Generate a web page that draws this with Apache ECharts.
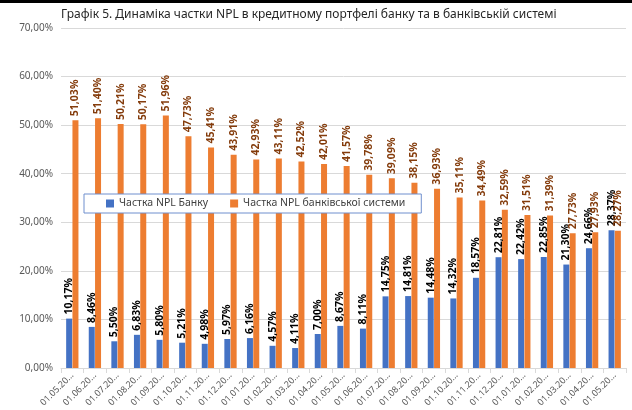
<!DOCTYPE html>
<html>
<head>
<meta charset="utf-8">
<script src="https://cdn.jsdelivr.net/npm/echarts@6/dist/echarts.min.js"></script>
<style>
  html, body { margin: 0; padding: 0; background: #fff; }
  #chart { width: 632px; height: 410px; }
  .topline { position: absolute; left: 0; top: 0; width: 632px; height: 3px; background: #000; z-index: 5; }
</style>
</head>
<body>
<div class="topline"></div>
<div id="chart"></div>
<script>
const dates = [
  '01.05.20…', '01.06.20…', '01.07.20…', '01.08.20…', '01.09.20…',
  '01.10.20…', '01.11.20…', '01.12.20…', '01.01.20…', '01.02.20…',
  '01.03.20…', '01.04.20…', '01.05.20…', '01.06.20…', '01.07.20…',
  '01.08.20…', '01.09.20…', '01.10.20…', '01.11.20…', '01.12.20…',
  '01.01.20…', '01.02.20…', '01.03.20…', '01.04.20…', '01.05.20…'
]
const bankNpl = [
  10.17, 8.46, 5.50, 6.83, 5.80, 5.21, 4.98, 5.97, 6.16, 4.57,
  4.11, 7.00, 8.67, 8.11, 14.75, 14.81, 14.48, 14.32, 18.57, 22.81,
  22.42, 22.85, 21.30, 24.66, 28.37
]
const systemNpl = [
  51.03, 51.40, 50.21, 50.17, 51.96, 47.73, 45.41, 43.91, 42.93, 43.11,
  42.52, 42.01, 41.57, 39.78, 39.09, 38.15, 36.93, 35.11, 34.49, 32.59,
  31.51, 31.39, 27.73, 27.93, 28.27
]

const blue = '#4472c4'
const orange = '#ed7d31'
const font = 'Noto Sans'

function pct(v) { return v.toFixed(2).replace('.', ',') + '%' }

const chart = echarts.init(document.getElementById('chart'))

chart.setOption({
  animation: false,
  textStyle: { fontFamily: font },
  title: {
    text: 'Графік 5. Динаміка частки NPL в кредитному портфелі банку та в банківській системі',
    left: 61,
    top: 9,
    padding: 0,
    textStyle: { fontFamily: font, fontSize: 12, fontWeight: 'normal', color: '#262626' },
  },
  legend: {
    data: ['Частка NPL Банку', 'Частка NPL банківської системи'],
    left: 84,
    top: 194,
    padding: [4, 16, 4, 22],
    itemGap: 22,
    itemWidth: 8,
    itemHeight: 8,
    icon: 'rect',
    backgroundColor: '#fff',
    borderColor: '#6f8fce',
    borderWidth: 1,
    textStyle: { fontFamily: font, fontSize: 10.5, color: '#404040' },
  },
  grid: { left: 61, right: 6, top: 28, bottom: 42 },
  xAxis: {
    type: 'category',
    data: dates,
    axisLine: { lineStyle: { color: '#d9d9d9' } },
    axisTick: { show: true, length: 5, lineStyle: { color: '#d9d9d9' } },
    axisLabel: { rotate: 45, fontSize: 9, color: '#595959', margin: 6 },
  },
  yAxis: {
    type: 'value',
    min: 0,
    max: 70,
    interval: 10,
    axisLine: { show: false },
    axisTick: { show: false },
    splitLine: { lineStyle: { color: '#d9d9d9' } },
    axisLabel: { fontSize: 10, color: '#595959', margin: 8, formatter: v => pct(v) },
  },
  series: [
    {
      name: 'Частка NPL Банку',
      type: 'bar',
      data: bankNpl,
      barWidth: 6,
      barGap: '5%',
      itemStyle: { color: blue },
      label: {
        show: true,
        position: 'top',
        rotate: 90,
        align: 'left',
        verticalAlign: 'middle',
        distance: 4,
        fontSize: 10.5,
        fontWeight: 'bold',
        color: '#000',
        formatter: p => pct(p.value),
      },
    },
    {
      name: 'Частка NPL банківської системи',
      type: 'bar',
      data: systemNpl,
      barWidth: 6,
      itemStyle: { color: orange },
      label: {
        show: true,
        position: 'top',
        rotate: 90,
        align: 'left',
        verticalAlign: 'middle',
        distance: 4,
        fontSize: 10.5,
        fontWeight: 'bold',
        color: '#843c0c',
        formatter: p => pct(p.value),
      },
    },
  ],
})
</script>
</body>
</html>
